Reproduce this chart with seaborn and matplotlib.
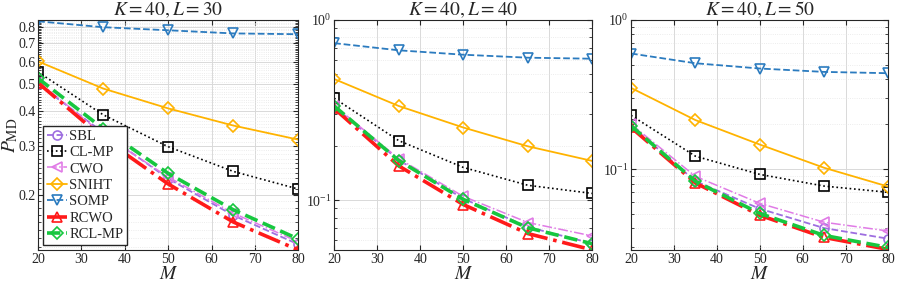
import numpy as np
import pandas as pd
import seaborn as sns
import matplotlib.pyplot as plt
from matplotlib.ticker import FixedLocator, FixedFormatter, LogLocator, LogFormatterMathtext, NullFormatter

# data
M = [20, 35, 50, 65, 80]
methods = ['SBL', 'CL-MP', 'CWO', 'SNIHT', 'SOMP', 'RCWO', 'RCL-MP']
titles = ['$K=40, L=30$', '$K=40, L=40$', '$K=40, L=50$']

# L = 30
sbl_30 = [0.500, 0.335, 0.229, 0.169, 0.133]
clmp_30 = [0.552, 0.388, 0.298, 0.243, 0.210]
cwo_30 = [0.510, 0.330, 0.232, 0.172, 0.136]
sniht_30 = [0.603, 0.482, 0.409, 0.355, 0.316]
somp_30 = [0.840, 0.800, 0.780, 0.760, 0.755]
rcwo_30 = [0.505, 0.320, 0.219, 0.160, 0.127]
rclmp_30 = [0.524, 0.346, 0.239, 0.177, 0.139]

# L = 40
sbl_40 = [0.330, 0.167, 0.102, 0.071, 0.0575]
clmp_40 = [0.368, 0.214, 0.152, 0.121, 0.109]
cwo_40 = [0.335, 0.170, 0.105, 0.0752, 0.0633]
sniht_40 = [0.470, 0.333, 0.253, 0.199, 0.165]
somp_40 = [0.743, 0.678, 0.641, 0.617, 0.609]
rcwo_40 = [0.323, 0.155, 0.0946, 0.0653, 0.053]
rclmp_40 = [0.333, 0.166, 0.101, 0.0703, 0.0573]

# L = 50
sbl_50 = [0.195, 0.083, 0.0542, 0.0402, 0.0341]
clmp_50 = [0.229, 0.122, 0.0921, 0.0769, 0.0698]
cwo_50 = [0.200, 0.0893, 0.0589, 0.044, 0.0384]
sniht_50 = [0.350, 0.213, 0.146, 0.102, 0.0762]
somp_50 = [0.595, 0.512, 0.472, 0.448, 0.439]
rcwo_50 = [0.190, 0.0807, 0.049, 0.0348, 0.0289]
rclmp_50 = [0.195, 0.0827, 0.0504, 0.0359, 0.0298]

panels = [
    [sbl_30, clmp_30, cwo_30, sniht_30, somp_30, rcwo_30, rclmp_30],
    [sbl_40, clmp_40, cwo_40, sniht_40, somp_40, rcwo_40, rclmp_40],
    [sbl_50, clmp_50, cwo_50, sniht_50, somp_50, rcwo_50, rclmp_50],
]

styles = {
    'SBL': dict(color='#9e6ee0', ls='--', marker='o', lw=1.3),
    'CL-MP': dict(color='black', ls=':', marker='s', lw=1.2),
    'CWO': dict(color='#e07be6', ls='-.', marker='<', lw=1.1),
    'SNIHT': dict(color='#ffb300', ls='-', marker='D', lw=1.3),
    'SOMP': dict(color='#2b7bbf', ls='--', marker='v', lw=1.3),
    'RCWO': dict(color='#ff1a1a', ls='-.', marker='^', lw=2.6),
    'RCL-MP': dict(color='#17c73f', ls='--', marker='D', lw=2.6),
}

ylims = [(0.127, 0.85), (0.053, 1.0), (0.0287, 1.0)]
positions = [
    [0.0425, 0.12, 0.290, 0.81],
    [0.3725, 0.12, 0.288, 0.81],
    [0.7035, 0.12, 0.287, 0.81],
]

sns.set_style('ticks')
plt.rcParams['font.family'] = ['Liberation Serif', 'DejaVu Serif']
plt.rcParams['mathtext.fontset'] = 'stix'

fig = plt.figure(figsize=(8.97, 2.84), dpi=100)

for i, vals in enumerate(panels):
    ax = fig.add_axes(positions[i])
    for name, y in zip(methods, vals):
        st = styles[name]
        df = pd.DataFrame({'M': M, 'P': y})
        sns.lineplot(data=df, x='M', y='P', ax=ax, color=st['color'],
                     linestyle=st['ls'], linewidth=st['lw'], marker=st['marker'],
                     markersize=6.5 if st['marker'] != 'D' else 6,
                     markerfacecolor='none', markeredgecolor=st['color'],
                     markeredgewidth=1.2, label=name if i == 0 else None,
                     legend=False)
    ax.set_yscale('log')
    ax.set_xlim(20, 80)
    ax.set_ylim(*ylims[i])
    ax.set_xticks([20, 30, 40, 50, 60, 70, 80])
    if i == 0:
        major = [0.2, 0.3, 0.4, 0.5, 0.6, 0.7, 0.8]
        ax.yaxis.set_major_locator(FixedLocator(major))
        ax.yaxis.set_major_formatter(FixedFormatter([str(v) for v in major]))
        minor = np.arange(0.13, 0.85, 0.01)
        ax.yaxis.set_minor_locator(FixedLocator(minor))
        ax.yaxis.set_minor_formatter(NullFormatter())
        ax.set_ylabel('$P_{\\mathrm{MD}}$', fontsize=14)
        ax.yaxis.set_label_coords(-0.07, 0.5)
    else:
        ax.yaxis.set_major_locator(LogLocator(base=10))
        ax.yaxis.set_major_formatter(LogFormatterMathtext())
        ax.yaxis.set_minor_locator(LogLocator(base=10, subs=np.arange(2, 10)))
        ax.yaxis.set_minor_formatter(NullFormatter())
        ax.set_ylabel('')
    ax.grid(True, which='major', color='#d9d9d9', lw=0.7)
    ax.grid(True, which='minor', axis='y', color='#e6e6e6', lw=0.6, ls=':')
    ax.set_axisbelow(True)
    ax.tick_params(which='both', direction='in', top=True, right=True,
                   labelsize=10, colors='#262626', pad=2)
    ax.tick_params(which='minor', length=2)
    for sp in ax.spines.values():
        sp.set_color('#262626')
        sp.set_linewidth(0.8)
    ax.set_xlabel('$M$', fontsize=14, labelpad=0)
    ax.set_title(titles[i], fontsize=14, pad=3)
    if i == 0:
        ax.legend(loc='lower left', fontsize=10.5, handlelength=1.4,
                  handletextpad=0.15, borderpad=0.25, labelspacing=0.22,
                  frameon=True, fancybox=False, edgecolor='#262626',
                  framealpha=1, borderaxespad=0.35)

fig.savefig('out.png', dpi=100)
